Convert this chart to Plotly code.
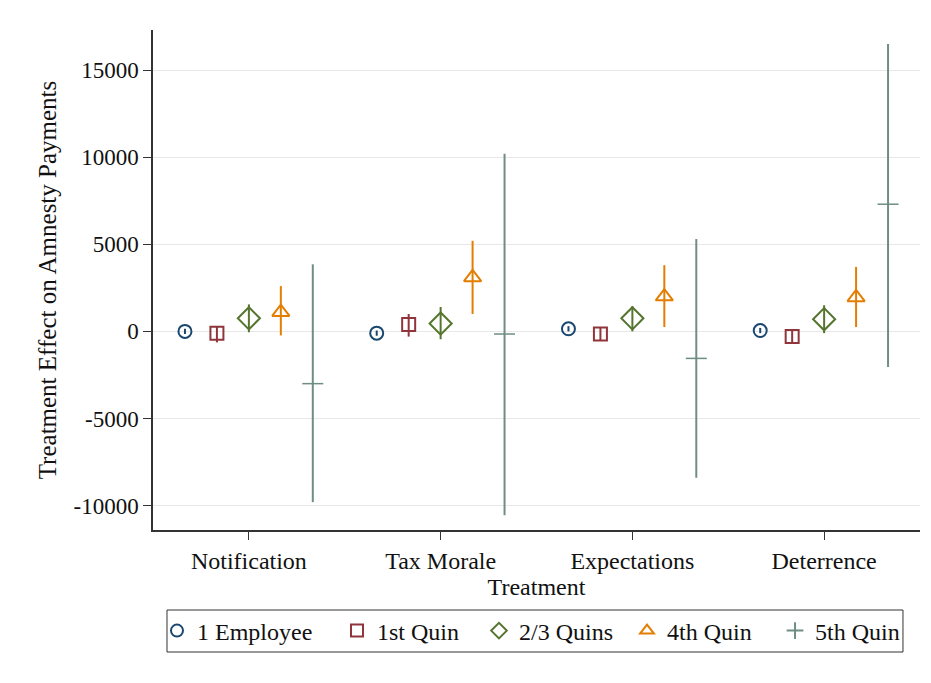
import plotly.graph_objects as go

categories = ["Notification", "Tax Morale", "Expectations", "Deterrence"]
series_names = ["1 Employee", "1st Quin", "2/3 Quins", "4th Quin", "5th Quin"]
y_ticks = [-10000, -5000, 0, 5000, 10000, 15000]
y_ticktext = ["-10000", "-5000", "0", "5000", "10000", "15000"]

# point estimates per series (one value per category)
est_1emp = [0, -100, 150, 50]
est_q1 = [-100, 400, -150, -300]
est_q23 = [750, 450, 750, 700]
est_q4 = [1100, 3100, 2000, 1950]
est_q5 = [-3000, -150, -1550, 7300]

# confidence interval bounds
hi_1emp = [150, 50, 300, 200]
lo_1emp = [-150, -250, 0, -100]
hi_q1 = [290, 1000, 200, 100]
lo_q1 = [-630, -300, -500, -650]
hi_q23 = [1550, 1400, 1450, 1500]
lo_q23 = [-50, -450, 0, -100]
hi_q4 = [2600, 5200, 3800, 3700]
lo_q4 = [-230, 1000, 250, 250]
hi_q5 = [3850, 10200, 5300, 16500]
lo_q5 = [-9800, -10550, -8400, -2050]

estimates = [est_1emp, est_q1, est_q23, est_q4, est_q5]
highs = [hi_1emp, hi_q1, hi_q23, hi_q4, hi_q5]
lows = [lo_1emp, lo_q1, lo_q23, lo_q4, lo_q5]

colors = ["#1a476f", "#90353b", "#55752f", "#e37e00", "#6e8e84"]
symbols = ["circle-open", "square-open", "diamond-open", "triangle-up-open", "line-ew"]
sizes = [13, 13, 17, 15, 15]

fig = go.Figure()
for k in range(5):
    off = (k - 2) / 6.0
    xs = [i + 1 + off for i in range(len(categories))]
    est = estimates[k]
    fig.add_trace(go.Scatter(
        x=xs, y=est, mode="markers", name=series_names[k],
        marker=dict(symbol=symbols[k], color=colors[k], size=sizes[k],
                    line=dict(color=colors[k], width=2 if k < 4 else 1.5)),
        error_y=dict(type="data", symmetric=False,
                     array=[h - e for h, e in zip(highs[k], est)],
                     arrayminus=[e - l for e, l in zip(est, lows[k])],
                     color=colors[k], thickness=2, width=0),
        showlegend=False,
    ))

font_family = "Liberation Serif, Times New Roman, serif"

# legend entries, each in its own legend so spacing can match the original
leg_symbols = ["circle-open", "square-open", "diamond-open", "triangle-up-open", "cross-thin-open"]
leg_x = [0.0052, 0.2399, 0.4250, 0.6180, 0.8110]
legend_layouts = {}
for k in range(5):
    lname = "legend" if k == 0 else "legend%d" % (k + 1)
    fig.add_trace(go.Scatter(
        x=[None], y=[None], mode="markers", name=series_names[k],
        legend=lname,
        marker=dict(symbol=leg_symbols[k], color=colors[k], size=9,
                    line=dict(color=colors[k], width=1.5)),
    ))
    legend_layouts[lname] = dict(
        orientation="h", x=leg_x[k], xanchor="left", y=-0.202, yanchor="middle",
        bgcolor="rgba(0,0,0,0)", borderwidth=0,
        font=dict(size=24, family=font_family, color="#111"),
        itemsizing="constant",
    )

fig.update_layout(
    width=931, height=683,
    margin=dict(l=145, r=19, t=22, b=161),
    paper_bgcolor="white", plot_bgcolor="white",
    font=dict(family=font_family, size=24, color="#111"),
    xaxis=dict(
        range=[0.5, 4.5], tickvals=[1, 2, 3, 4], ticktext=categories,
        showgrid=False, zeroline=False, showline=True, linecolor="#333", linewidth=1.5,
        ticks="outside", ticklen=8, tickcolor="#333",
        tickfont=dict(size=24, family=font_family),
        title=dict(text="Treatment", font=dict(size=24, family=font_family), standoff=0),
    ),
    yaxis=dict(
        range=[-11400, 17300], tickvals=y_ticks, ticktext=y_ticktext,
        showgrid=True, gridcolor="#e8e8e8", gridwidth=1, zeroline=False,
        showline=True, linecolor="#333", linewidth=1.5,
        ticks="outside", ticklen=8, tickcolor="#333",
        tickfont=dict(size=23, family=font_family),
        title=dict(text="Treatment Effect on Amnesty Payments", font=dict(size=25, family=font_family), standoff=10),
    ),
    shapes=[dict(type="rect", xref="paper", yref="paper",
                 x0=0.01825, x1=0.9778, y0=-0.244, y1=-0.16,
                 line=dict(color="#333", width=1), fillcolor="rgba(0,0,0,0)")],
    **legend_layouts,
)

fig.write_html("out.html")
